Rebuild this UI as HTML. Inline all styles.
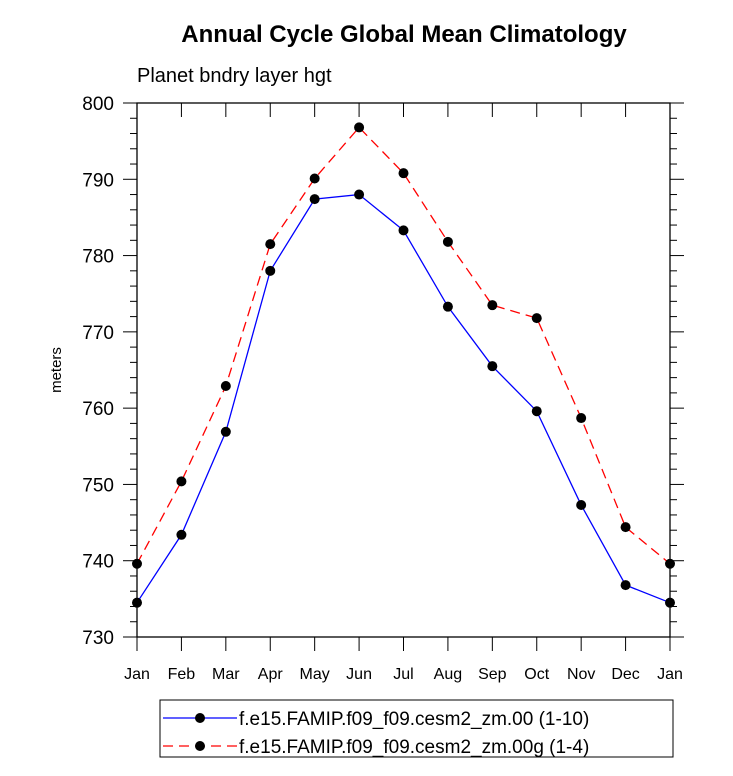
<!DOCTYPE html>
<html><head><meta charset="utf-8"><style>
body{margin:0;background:#fff}
svg{display:block;font-family:"Liberation Sans",sans-serif}
</style></head><body>
<svg id="chart" width="733" height="776" viewBox="0 0 733 776" xmlns="http://www.w3.org/2000/svg">
<text x="404" y="42" text-anchor="middle" font-size="24" font-weight="bold">Annual Cycle Global Mean Climatology</text>
<text x="137" y="82" font-size="20">Planet bndry layer hgt</text>
<text transform="translate(61,370) rotate(-90)" text-anchor="middle" font-size="15">meters</text>
<g id="axes"></g>
<g id="series"></g>
<rect x="160" y="700" width="513" height="57" fill="none" stroke="#000" stroke-width="1"/>
<g>
<line x1="163" y1="718" x2="237" y2="718" stroke="#00f" stroke-width="1.3"/>
<circle cx="200" cy="718" r="5" fill="#000"/>
<text x="239" y="725" font-size="19">f.e15.FAMIP.f09_f09.cesm2_zm.00 (1-10)</text>
</g>
<g>
<line x1="163" y1="746" x2="237" y2="746" stroke="#f00" stroke-width="1.3" stroke-dasharray="10,6"/>
<circle cx="200" cy="746" r="5" fill="#000"/>
<text x="239" y="753" font-size="19">f.e15.FAMIP.f09_f09.cesm2_zm.00g (1-4)</text>
</g>
</svg>
<script>
const months=["Jan","Feb","Mar","Apr","May","Jun","Jul","Aug","Sep","Oct","Nov","Dec","Jan"];
const blueValues=[734.5,743.4,756.9,778.0,787.4,788.0,783.3,773.3,765.5,759.6,747.3,736.8,734.5];
const redValues=[739.6,750.4,762.9,781.5,790.1,796.8,790.8,781.8,773.5,771.8,758.7,744.4,739.6];
const yTicks=[730,740,750,760,770,780,790,800];
const NS="http://www.w3.org/2000/svg";
const L=137,R=670,T=103,B=637,ymin=730,ymax=800;
function xs(i){return L+(R-L)*i/(months.length-1);}
function ys(v){return B-(v-ymin)/(ymax-ymin)*(B-T);}
function mk(tag,attrs,parent){const e=document.createElementNS(NS,tag);for(const k in attrs)e.setAttribute(k,attrs[k]);parent.appendChild(e);return e;}
const ax=document.getElementById('axes');
const frame=mk('rect',{x:L,y:T,width:R-L,height:B-T,fill:'none',stroke:'#000','stroke-width':1.3},ax);


for(let v=ymin;v<=ymax;v+=2){
  const y=ys(v);const major=(v%10===0);const len=major?14:7;
  mk('line',{x1:L-len,y1:y,x2:L,y2:y,stroke:'#000','stroke-width':1},ax);
  mk('line',{x1:R,y1:y,x2:R+len,y2:y,stroke:'#000','stroke-width':1},ax);
}
yTicks.forEach(v=>{
  const t=mk('text',{x:L-23,y:ys(v)+7,'text-anchor':'end','font-size':19},ax);
  t.textContent=v;
  
  
});
months.forEach((m,i)=>{
  const x=xs(i);
  mk('line',{x1:x,y1:B,x2:x,y2:B+14,stroke:'#000','stroke-width':1},ax);
  mk('line',{x1:x,y1:T,x2:x,y2:T+14,stroke:'#000','stroke-width':1},ax);
  const t=mk('text',{x:x,y:B+42,'text-anchor':'middle','font-size':16},ax);
  t.textContent=m;
  
  
});
const sg=document.getElementById('series');
function drawSeries(vals,color,dash,name){
  const pts=vals.map((v,i)=>xs(i)+','+ys(v)).join(' ');
  const pl=mk('polyline',{points:pts,fill:'none',stroke:color,'stroke-width':1.3,'stroke-dasharray':dash},sg);
  
  
  vals.forEach((v,i)=>{
    const c=mk('circle',{cx:xs(i),cy:ys(v),r:5,fill:'#000'},sg);
    
    
  });
}
drawSeries(redValues,'#f00','10,6','red-series');
drawSeries(blueValues,'#00f','none','blue-series');
</script>
</body></html>
